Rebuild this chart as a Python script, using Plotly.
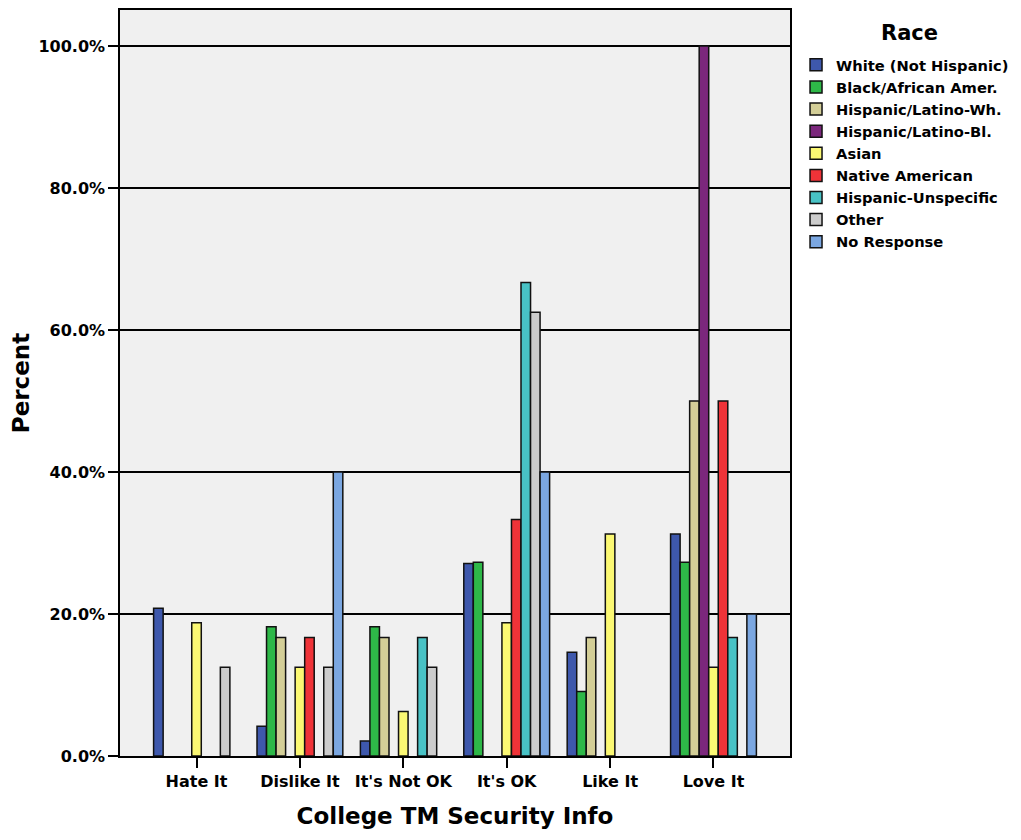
import plotly.graph_objects as go

categories = ["Hate It", "Dislike It", "It's Not OK", "It's OK", "Like It", "Love It"]
series_names = ["White (Not Hispanic)", "Black/African Amer.", "Hispanic/Latino-Wh.",
                "Hispanic/Latino-Bl.", "Asian", "Native American",
                "Hispanic-Unspecific", "Other", "No Response"]

white = [20.8, 4.2, 2.1, 27.1, 14.6, 31.25]
black = [0, 18.2, 18.2, 27.3, 9.1, 27.3]
hisp_wh = [0, 16.7, 16.7, 0, 16.7, 50.0]
hisp_bl = [0, 0, 0, 0, 0, 100.0]
asian = [18.75, 12.5, 6.25, 18.75, 31.25, 12.5]
native = [0, 16.7, 0, 33.3, 0, 50.0]
hisp_unspec = [0, 0, 16.7, 66.7, 0, 16.7]
other = [12.5, 12.5, 12.5, 62.5, 0, 0]
no_response = [0, 40.0, 0, 40.0, 0, 20.0]

series_values = [white, black, hisp_wh, hisp_bl, asian, native, hisp_unspec, other, no_response]
colors = ["#3E58AC", "#2EB848", "#D3CE97", "#7B277C", "#FBF873",
          "#EF3338", "#48C2C5", "#CCCCCC", "#7BA7E1"]

y_ticks = [0, 20, 40, 60, 80, 100]
y_tick_labels = [f"{v:.1f}%" for v in y_ticks]

FONT = "DejaVu Sans, Verdana, sans-serif"

fig = go.Figure()
for name, vals, col in zip(series_names, series_values, colors):
    fig.add_trace(go.Bar(
        x=categories, y=[v if v else None for v in vals], name=name,
        marker=dict(color=col, line=dict(color="#111111", width=1.5)),
    ))

bold = dict(family=FONT, weight="bold", color="black")

fig.update_layout(
    width=1013, height=832,
    barmode="group", bargap=0.17, bargroupgap=0,
    paper_bgcolor="white", plot_bgcolor="#F0F0F0",
    margin=dict(l=112, r=231, t=2, b=84, autoexpand=False),
    font=dict(family=FONT, color="black"),
    legend=dict(
        font=dict(size=14.7, **bold),
        x=1.009, xanchor="left", y=0.948, yanchor="top",
        bgcolor="rgba(0,0,0,0)", itemwidth=30,
    ),
    annotations=[dict(
        text="Race", xref="paper", yref="paper", x=1.179, y=0.969,
        xanchor="center", yanchor="middle", showarrow=False,
        font=dict(size=21, **bold),
    )],
    xaxis=dict(
        title=dict(text="College TM Security Info", font=dict(size=23, **bold), standoff=18),
        tickfont=dict(size=16, **bold),
        range=[-0.74, len(categories) - 1 + 0.74],
        showline=True, linecolor="black", linewidth=1.5, mirror=True,
        ticks="outside", ticklen=10, tickwidth=2, tickcolor="black",
        showgrid=False,
    ),
    yaxis=dict(
        title=dict(text="Percent", font=dict(size=23, **bold), standoff=14),
        tickfont=dict(size=16, **bold),
        range=[0, 105.07], tickvals=y_ticks, ticktext=y_tick_labels,
        showline=True, linecolor="black", linewidth=1.5, mirror=True,
        ticks="outside", ticklen=10, tickwidth=2, tickcolor="black",
        showgrid=True, gridcolor="black", gridwidth=1.5,
        zeroline=False,
    ),
)

fig.write_html("out.html")
